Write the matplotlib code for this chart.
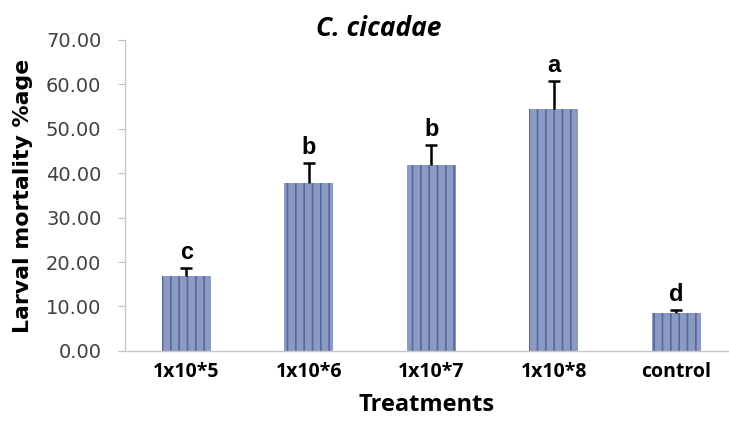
import matplotlib
matplotlib.use("Agg")
import matplotlib.pyplot as plt

categories = ["1x10*5", "1x10*6", "1x10*7", "1x10*8", "control"]
values = [16.9, 37.8, 41.9, 54.5, 8.6]
errors = [1.8, 4.6, 4.5, 6.3, 0.6]
letters = ["c", "b", "b", "a", "d"]
yticks = [0, 10, 20, 30, 40, 50, 60, 70]

plt.rcParams['font.family'] = ['Open Sans', 'DejaVu Sans']
plt.rcParams['hatch.linewidth'] = 1.2

fig = plt.figure(figsize=(7.29, 4.37), dpi=100)
ax = fig.add_axes([0.1715, 0.197, 0.8285, 0.7115])

x = list(range(len(categories)))
tops = [v + e for v, e in zip(values, errors)]
ax.bar(x, values, width=0.4, color='#8a9ac2', edgecolor='#56679a',
       hatch='||', linewidth=0, zorder=2)
ax.vlines(x, values, tops, colors='black', linewidth=1.8, zorder=3)
ax.plot(x, tops, linestyle='none', marker='_', markersize=8,
        markeredgewidth=1.8, color='black', zorder=3)
for xi, t, l in zip(x, tops, letters):
    ax.text(xi, t + 0.9, l, ha='center', va='bottom', fontsize=17,
            fontweight='bold', color='black', family='Liberation Sans')

ax.set_xlim(-0.5, 4.43)
ax.set_ylim(0, 70)
ax.set_yticks(yticks)
ax.set_yticklabels([f"{t:.2f}" for t in yticks], fontsize=14, color='#404040',
                   family='DejaVu Sans')
ax.set_xticks(x)
ax.set_xticklabels(categories, fontsize=14, fontweight='bold', color='black')
ax.tick_params(axis='x', length=0, pad=8)
ax.tick_params(axis='y', length=5, color='#c0c0c0', pad=12)
for s in ['top', 'right']:
    ax.spines[s].set_visible(False)
for s in ['left', 'bottom']:
    ax.spines[s].set_color('#c8c8c8')
    ax.spines[s].set_linewidth(1.0)

ax.set_ylabel("Larval mortality %age", fontsize=15.8, fontweight='bold',
              family='DejaVu Sans')
ax.yaxis.set_label_coords(-0.152, 0.5)
ax.set_xlabel("Treatments", fontsize=17, fontweight='bold', labelpad=8)
fig.text(0.519, 0.935, "C. cicadae", ha='center', va='center', fontsize=19,
         fontweight='bold', style='italic')

fig.savefig("out.png", dpi=100)
